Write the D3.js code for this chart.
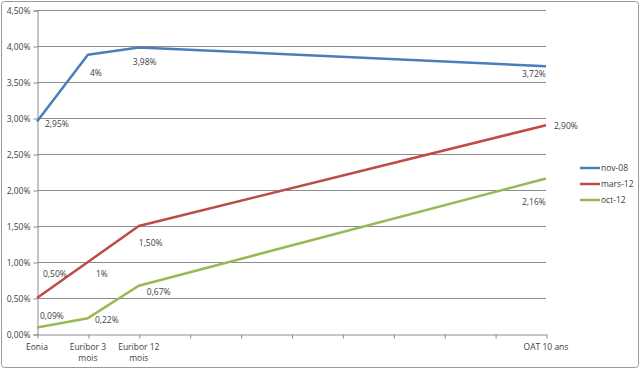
<!DOCTYPE html>
<html>
<head>
<meta charset="utf-8">
<script src="https://cdn.jsdelivr.net/npm/d3@7"></script>
<style>
  body { margin: 0; background: #fff; }
  svg text { font-family: "Open Sans", "Liberation Sans", sans-serif; font-size: 8.5px; fill: #404040; }
</style>
</head>
<body>
<svg id="chart" width="640" height="369"></svg>
<script>
// Categories (blank slots sit between Euribor 12 mois and OAT 10 ans)
const categories = ["Eonia", "Euribor 3\nmois", "Euribor 12\nmois", "", "", "", "", "", "", "", "OAT 10 ans"];
const seriesNames = ["nov-08", "mars-12", "oct-12"];
const nov08 = [2.95, 3.88, 3.98, null, null, null, null, null, null, null, 3.72];
const mars12 = [0.50, 1.00, 1.50, null, null, null, null, null, null, null, 2.90];
const oct12 = [0.09, 0.22, 0.67, null, null, null, null, null, null, null, 2.16];
const labelTexts = [
  ["2,95%", "4%", "3,98%", "3,72%"],
  ["0,50%", "1%", "1,50%", "2,90%"],
  ["0,09%", "0,22%", "0,67%", "2,16%"]
];
const yTicks = [0, 0.5, 1, 1.5, 2, 2.5, 3, 3.5, 4, 4.5];
const colors = ["#4A7EBB", "#BE4B48", "#98B954"];

// label offsets relative to the point (dx, dy)
const labelOffsets = [
  [[8, 5], [2, 21], [-6, 18], [-24, 11]],
  [[6, -21], [8, 15], [0, 20], [8, 4]],
  [[3, -9], [7, 5], [8, 9], [-24, 27]]
];

const svg = d3.select("#chart");
const margin = { left: 37, right: 94, top: 10, bottom: 35 };
const W = 640, H = 369;

// outer border
svg.append("rect")
  .attr("x", 1.5).attr("y", 1.5)
  .attr("width", W - 3).attr("height", H - 3)
  .attr("rx", 3)
  .attr("fill", "#fff")
  .attr("stroke", "#9a9a9a");

const x = d3.scalePoint()
  .domain(d3.range(categories.length))
  .range([margin.left, W - margin.right]);

const y = d3.scaleLinear()
  .domain([0, 4.5])
  .range([H - margin.bottom, margin.top]);

const fmt = v => d3.format(".2f")(v).replace(".", ",") + "%";

// gridlines
svg.append("g")
  .selectAll("line")
  .data(yTicks.slice(1))
  .join("line")
  .attr("x1", margin.left).attr("x2", W - margin.right)
  .attr("y1", d => Math.round(y(d)) + 0.5).attr("y2", d => Math.round(y(d)) + 0.5)
  .attr("stroke", "#8c8c8c")
  .attr("stroke-width", 1);

// y axis
const yAxis = svg.append("g")
  .attr("transform", `translate(${margin.left + 0.5},0.5)`)
  .call(d3.axisLeft(y).tickValues(yTicks).tickSize(4).tickPadding(3).tickFormat(fmt));
yAxis.select(".domain").attr("stroke", "#8c8c8c");
yAxis.selectAll(".tick line").attr("stroke", "#8c8c8c");
yAxis.selectAll("text").style("font-size", "8.5px").attr("fill", "#404040");

// x axis
const xAxis = svg.append("g")
  .attr("transform", `translate(0.5,${Math.round(y(0)) + 0.5})`)
  .call(d3.axisBottom(x).tickSize(4).tickSizeOuter(0).tickFormat(""));
xAxis.select(".domain").attr("stroke", "#8c8c8c");
xAxis.selectAll(".tick line").attr("stroke", "#8c8c8c");

// x tick labels (multi-line)
svg.append("g")
  .selectAll("text")
  .data(categories.map((c, i) => ({ c, i })).filter(d => d.c))
  .join("text")
  .attr("text-anchor", "middle")
  .attr("x", d => x(d.i))
  .attr("y", y(0) + 16)
  .each(function (d) {
    d.c.split("\n").forEach((line, k) => {
      d3.select(this).append("tspan")
        .attr("x", x(d.i))
        .attr("dy", k === 0 ? 0 : 11)
        .text(line);
    });
  });

// series lines
const allSeries = [nov08, mars12, oct12];
const line = d3.line()
  .x(d => x(d.i))
  .y(d => y(d.v));

allSeries.forEach((vals, s) => {
  const pts = vals.map((v, i) => ({ v, i })).filter(d => d.v !== null);
  svg.append("path")
    .datum(pts)
    .attr("d", line)
    .attr("fill", "none")
    .attr("stroke", colors[s])
    .attr("stroke-width", 2.5)
    .attr("stroke-linejoin", "round");

  // data labels
  svg.append("g")
    .selectAll("text")
    .data(pts)
    .join("text")
    .attr("x", (d, k) => x(d.i) + labelOffsets[s][k][0])
    .attr("y", (d, k) => y(d.v) + labelOffsets[s][k][1])
    .text((d, k) => labelTexts[s][k]);
});

// legend
const legend = svg.append("g")
  .selectAll("g")
  .data(seriesNames)
  .join("g")
  .attr("transform", (d, i) => `translate(580,${168 + i * 16})`);
legend.append("line")
  .attr("x1", 0).attr("x2", 20)
  .attr("stroke", (d, i) => colors[i])
  .attr("stroke-width", 2.5);
legend.append("text")
  .attr("x", 21)
  .attr("y", 3)
  .text(d => d);
</script>
</body>
</html>
